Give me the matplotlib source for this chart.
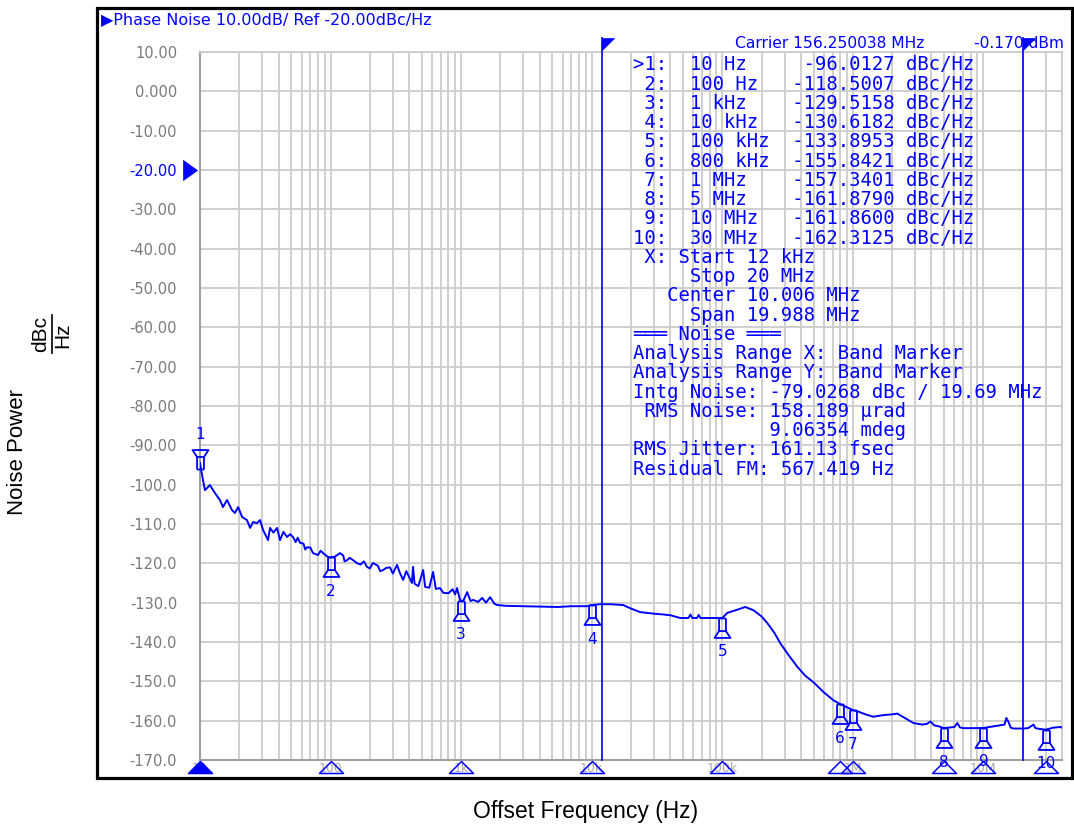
import matplotlib
matplotlib.use("Agg")
import matplotlib.pyplot as plt
import matplotlib.transforms as mtransforms
from matplotlib.path import Path
from matplotlib.lines import Line2D
from matplotlib.patches import Rectangle
from matplotlib.ticker import LogLocator, NullFormatter

W, H, DPI = 1074, 826, 100
BLUE = "#0000ff"

# ---------------- data ----------------
trace_freq = [10, 10.3, 10.9, 11.9, 13.0, 14.2, 15.0, 16.1, 17.6, 18.5, 19.6, 21.0, 22.9, 24.2,
              25.5, 27.3, 28.8, 30.4, 33.2, 34.4, 36.5, 38.9, 41.0, 43.5, 46.4, 49.0, 51.6, 54,
              56, 58.4, 62, 64, 66.1, 70, 73.4, 80, 84, 87.6, 95.6, 100, 108, 118, 125, 128,
              134, 140, 149, 160, 170, 180, 190, 200, 211, 230, 240, 253, 265, 285, 300, 323,
              340, 360, 380, 400, 420, 428, 440, 470, 512, 530, 570, 610, 640, 690, 730, 800,
              860, 900, 931, 980, 1000, 1040, 1112, 1180, 1236, 1350, 1450, 1550, 1667, 1800,
              1888, 2200, 3000, 4000, 5500, 7000, 9200, 10000, 11600, 14000, 17400, 20000,
              23500, 30000, 35300, 40000, 47700, 55000, 57000, 59000, 64000, 66000, 68000,
              91600, 100000, 109200, 130000, 150000, 172900, 200000, 221400, 250000, 278200,
              320000, 375700, 430000, 498000, 600000, 709400, 800000, 1000000, 1082000,
              1250000, 1435000, 1700000, 2000000, 2193000, 2500000, 2910000, 3400000, 3700000,
              3930000, 4200000, 4500000, 5000000, 6000000, 6320000, 6600000, 7000000, 8500000,
              10000000, 12800000, 14500000, 15000000, 15600000, 16200000, 17000000, 20300000,
              22000000, 24200000, 25000000, 27000000, 30000000, 34000000, 38900000, 40000000]
trace_db = [-94.5, -97.0, -101.4, -100.1, -102.1, -103.9, -105.7, -103.9, -106.5, -107.2, -105.7,
            -108.2, -109.0, -111.0, -109.5, -109.8, -109.0, -111.5, -114.1, -111.0, -112.2,
            -111.0, -114.1, -112.0, -113.3, -112.6, -113.3, -114.6, -113.5, -114.8, -115.0,
            -116.5, -115.9, -116.0, -117.4, -117.9, -116.8, -117.4, -118.4, -118.5, -118.3,
            -117.4, -118.0, -119.5, -119.2, -118.6, -119.2, -120.0, -120.3, -119.5, -120.9,
            -121.3, -119.9, -120.6, -122.0, -121.7, -121.2, -121.0, -122.6, -120.4, -122.5,
            -124.2, -122.0, -123.5, -125.0, -120.9, -125.2, -125.8, -121.7, -126.0, -126.2,
            -122.2, -126.5, -126.3, -127.5, -127.6, -126.6, -127.9, -126.3, -129.3, -129.5,
            -129.5, -127.3, -129.6, -129.3, -129.8, -128.8, -130.0, -128.6, -130.3, -130.6,
            -130.8, -130.9, -131.0, -131.1, -130.9, -130.9, -130.6, -130.4, -130.4, -130.6,
            -131.5, -132.4, -132.8, -133.0, -133.2, -133.9, -133.9, -133.0, -133.9, -133.9,
            -133.1, -133.9, -133.9, -133.9, -132.6, -131.8, -131.1, -131.9, -133.5, -135.2,
            -137.6, -140.3, -143.2, -146.3, -148.5, -150.2, -152.8, -154.8, -155.8, -157.3,
            -157.6, -158.4, -159.0, -158.6, -158.4, -158.2, -159.3, -160.6, -161.0, -160.8,
            -160.2, -161.2, -161.4, -161.9, -161.6, -160.6, -161.7, -161.9, -161.9, -161.86,
            -161.3, -161.0, -159.3, -160.4, -161.8, -162.0, -162.0, -161.9, -161.0, -161.9,
            -162.1, -162.3, -161.8, -161.6, -161.8]

marker_freq = [10, 100, 1e3, 1e4, 1e5, 8e5, 1e6, 5e6, 1e7, 3e7]
marker_db = [-96.0127, -118.5007, -129.5158, -130.6182, -133.8953, -155.8421, -157.3401,
             -161.8790, -161.8600, -162.3125]
marker_text = ["10 Hz", "100 Hz", "1 kHz", "10 kHz", "100 kHz", "800 kHz", "1 MHz", "5 MHz",
               "10 MHz", "30 MHz"]

band_freq = [12e3, 20e6]
x_range = (10, 4e7)
y_range = (-170, 10)
y_ticks = list(range(10, -171, -10))
y_tick_labels = ["10.00", "0.000", "-10.00", "-20.00", "-30.00", "-40.00", "-50.00", "-60.00",
                 "-70.00", "-80.00", "-90.00", "-100.0", "-110.0", "-120.0", "-130.0", "-140.0",
                 "-150.0", "-160.0", "-170.0"]
x_ticks = [10, 100, 1e3, 1e4, 1e5, 1e6, 1e7]
x_tick_labels = ["10", "100", "1k", "10k", "100k", "1M", "10M"]

info_lines = [" X: Start 12 kHz", "     Stop 20 MHz", "   Center 10.006 MHz",
              "     Span 19.988 MHz", "═══ Noise ═══", "Analysis Range X: Band Marker",
              "Analysis Range Y: Band Marker", "Intg Noise: -79.0268 dBc / 19.69 MHz",
              " RMS Noise: 158.189 µrad", "            9.06354 mdeg",
              "RMS Jitter: 161.13 fsec", "Residual FM: 567.419 Hz"]

# ---------------- figure ----------------
fig = plt.figure(figsize=(W / DPI, H / DPI), dpi=DPI)
fig.patch.set_facecolor("white")


def fx(px):
    return px / W


def fy(py):
    return 1 - py / H


ax = fig.add_axes([fx(200), fy(760), 862 / W, 708 / H])
ax.set_xscale("log")
ax.set_xlim(*x_range)
ax.set_ylim(*y_range)
ax.set_xticks(x_ticks)
ax.set_xticklabels(x_tick_labels)
ax.xaxis.set_minor_locator(LogLocator(base=10, subs=range(2, 10), numticks=20))
ax.xaxis.set_minor_formatter(NullFormatter())
ax.set_yticks(y_ticks)
ax.set_yticklabels(y_tick_labels)
ax.tick_params(axis="both", which="both", length=0)
ax.tick_params(axis="y", pad=16.5, labelsize=10.5, labelcolor="#7a7a7a")
ax.tick_params(axis="x", pad=1.5, labelsize=9, labelcolor="#a8a8a8")
for lbl in ax.get_yticklabels():
    if lbl.get_text() == "-20.00":
        lbl.set_color(BLUE)
ax.grid(True, which="both", axis="x", color="#cccccc", lw=1.3)
ax.grid(True, which="major", axis="y", color="#cccccc", lw=1.3)
ax.set_axisbelow(True)
for side in ["top", "right"]:
    ax.spines[side].set_color("#cccccc")
    ax.spines[side].set_linewidth(1.3)
for side in ["left", "bottom"]:
    ax.spines[side].set_color("#a0a0a0")
    ax.spines[side].set_linewidth(1.5)

# trace
ax.plot(trace_freq, trace_db, color=BLUE, lw=1.4, zorder=3)

# marker pins
pin_verts = [(-3, 0), (3, 0), (-3, 0), (-3, -11), (3, 0), (3, -11),
             (-3, -11), (-7, -17), (7, -17), (3, -11), (-3, -11)]
pin_codes = [Path.MOVETO, Path.LINETO, Path.MOVETO, Path.LINETO, Path.MOVETO, Path.LINETO,
             Path.MOVETO, Path.LINETO, Path.LINETO, Path.LINETO, Path.LINETO]
pin_down = Path(pin_verts, pin_codes)
pin_up = Path([(x, -y) for x, y in pin_verts], pin_codes)
for i, (f, v) in enumerate(zip(marker_freq, marker_db)):
    mk = pin_up if i == 0 else pin_down
    ax.plot([f], [v], marker=mk, ms=28, mfc="none", mec=BLUE, mew=1.3,
            ls="none", zorder=4, clip_on=False)
    off = 34 if i == 0 else -34
    ax.annotate(str(i + 1), (f, v), xytext=(0, off * 0.72), textcoords="offset points",
                ha="center", va="center", color=BLUE, fontsize=11, zorder=5,
                annotation_clip=False)

# bottom triangles
tr_xd = mtransforms.blended_transform_factory(ax.transData, ax.transAxes)
tri = Path([(-1, -0.5), (1, -0.5), (0, 0.5), (-1, -0.5)],
           [Path.MOVETO, Path.LINETO, Path.LINETO, Path.CLOSEPOLY])
for i, f in enumerate(marker_freq):
    ax.plot([f], [-0.0099], marker=tri, ms=17.3, mec=BLUE, mew=1.1,
            mfc=BLUE if i == 0 else "none", ls="none", transform=tr_xd,
            clip_on=False, zorder=6)

# band markers
flag = Path([(0, 0), (1, 0), (0, -1), (0, 0)],
            [Path.MOVETO, Path.LINETO, Path.LINETO, Path.CLOSEPOLY])
top_y = (760 - 38) / 708
for f in band_freq:
    ax.plot([f, f], [0, top_y], color=BLUE, lw=1.2, transform=tr_xd, clip_on=False, zorder=5)
    ax.plot([f], [top_y], marker=flag, ms=17.3, mfc=BLUE, mec=BLUE, mew=0.5,
            ls="none", transform=tr_xd, clip_on=False, zorder=5)

# reference level triangle
tr_ay = mtransforms.blended_transform_factory(ax.transAxes, ax.transData)
ref_tri = Path([(-0.7, -1), (-0.7, 1), (0.7, 0), (-0.7, -1)],
               [Path.MOVETO, Path.LINETO, Path.LINETO, Path.CLOSEPOLY])
ax.plot([-0.0116], [-20], marker=ref_tri, ms=14.4, mfc=BLUE, mec=BLUE, mew=0.5,
        ls="none", transform=tr_ay, clip_on=False)

# outer frame
fig.add_artist(Rectangle((fx(97), fy(778)), (1072 - 97) / W, (778 - 8) / H,
                         transform=fig.transFigure, fill=False, lw=2.3, ec="black"))

# header texts
fig.text(fx(101), fy(20), "▶Phase Noise 10.00dB/ Ref -20.00dBc/Hz", color=BLUE,
         fontsize=11.5, va="center", ha="left")
fig.text(fx(735), fy(43), "Carrier 156.250038 MHz", color=BLUE, fontsize=11.2,
         va="center", ha="left")
fig.text(fx(1064), fy(43), "-0.170 dBm", color=BLUE, fontsize=11.2, va="center", ha="right")

# marker table
table = []
for i, (lab, v) in enumerate(zip(marker_text, marker_db)):
    idx = f">{i + 1}" if i == 0 else f"{i + 1:>2}"
    table.append(f"{idx}:  {lab:<9}{v:9.4f} dBc/Hz")
table += info_lines
for k, line in enumerate(table):
    fig.text(fx(633), fy(64 + k * 19.24 + 6.5), line, color=BLUE, fontsize=13.6,
             family="DejaVu Sans Mono", va="baseline", ha="left")

# axis labels
lab_font = ["Liberation Sans", "DejaVu Sans"]
fig.text(fx(586), fy(818), "Offset Frequency (Hz)", fontsize=16.5, family=lab_font,
         ha="center", va="baseline")
fig.text(fx(18), fy(452), "Noise Power", fontsize=16, family=lab_font, rotation=90,
         ha="center", va="center")
fig.text(fx(41), fy(334), "dBc", fontsize=15, family=lab_font, rotation=90,
         ha="center", va="center")
fig.text(fx(63), fy(335), "Hz", fontsize=15, family=lab_font, rotation=90,
         ha="center", va="center")
fig.add_artist(Line2D([fx(52), fx(52)], [fy(315), fy(353)], transform=fig.transFigure,
                      color="black", lw=1.2))

fig.savefig("out.png", dpi=DPI)
